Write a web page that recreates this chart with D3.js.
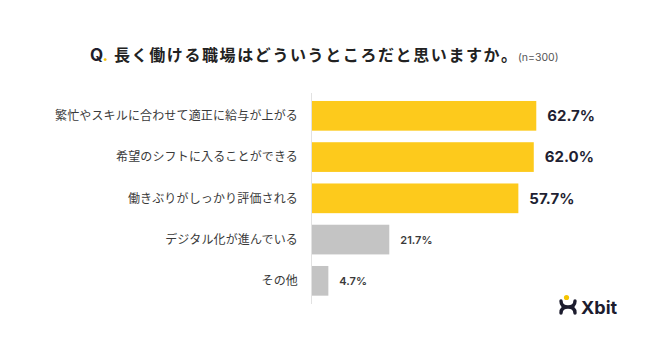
<!DOCTYPE html>
<html><head><meta charset="utf-8">
<script src="https://cdn.jsdelivr.net/npm/d3@7"></script>
<style>
html,body{margin:0;padding:0;background:#fff;}
svg{display:block;}
</style></head>
<body><div id="chart"></div>
<script>
const categories = ["繁忙やスキルに合わせて適正に給与が上がる","希望のシフトに入ることができる","働きぶりがしっかり評価される","デジタル化が進んでいる","その他"];
const values = [62.7, 62.0, 57.7, 21.7, 4.7];
const highlight = [true, true, true, false, false];
const titleText = "長く働ける職場はどういうところだと思いますか。";
const sampleText = "(n=300)";

const W = 650, H = 341;
const svg = d3.select("#chart").append("svg").attr("width", W).attr("height", H);
svg.append("rect").attr("width", W).attr("height", H).attr("fill", "#fff");

const x = d3.scaleLinear().domain([0, 70]).range([311.5, 311.5 + 70 * 3.585]);
const y = d3.scaleBand().domain(categories).range([95.2, 301.45]).paddingInner(0.28).paddingOuter(0.14);

// title
const t = svg.append("text").attr("x", 90).attr("y", 61);
t.append("tspan").text("Q").attr("font-family", "Inter, Lato, sans-serif").attr("font-weight", 700).attr("font-size", 17).attr("fill", "#1f1f2e");
t.append("tspan").text(".").attr("font-family", "Inter, Lato, sans-serif").attr("font-weight", 700).attr("font-size", 17).attr("fill", "#f5c400");
svg.append("text").attr("x", 114).attr("y", 61).text(titleText)
  .attr("font-family", "'Noto Sans CJK JP', sans-serif").attr("font-weight", 700)
  .attr("font-size", 16).attr("letter-spacing", 1.6).attr("fill", "#222");
svg.append("text").attr("x", 518).attr("y", 61).text(sampleText)
  .attr("font-family", "Inter, Lato, sans-serif").attr("font-size", 10.5).attr("fill", "#555");

// axis line
svg.append("line").attr("x1", x(0)).attr("x2", x(0)).attr("y1", 93).attr("y2", 304)
  .attr("stroke", "#e2e2e2").attr("stroke-width", 1);

// bars
svg.selectAll("rect.bar").data(categories).join("rect").attr("class", "bar")
  .attr("x", x(0) + 0.5).attr("y", d => y(d))
  .attr("width", (d, i) => x(values[i]) - x(0) - 0.5)
  .attr("height", y.bandwidth())
  .attr("fill", (d, i) => highlight[i] ? "#fdca1c" : "#c4c4c4");

// category labels
svg.selectAll("text.cat").data(categories).join("text").attr("class", "cat")
  .attr("x", 298).attr("y", d => y(d) + y.bandwidth() / 2).attr("dy", "0.36em")
  .attr("text-anchor", "end").text(d => d)
  .attr("font-family", "'Noto Sans CJK JP', sans-serif").attr("font-size", 12)
  .attr("letter-spacing", 0.15).attr("fill", "#3a3a3a");

// value labels
svg.selectAll("text.val").data(categories).join("text").attr("class", "val")
  .attr("x", (d, i) => x(values[i]) + 11)
  .attr("y", d => y(d) + y.bandwidth() / 2).attr("dy", "0.36em")
  .text((d, i) => values[i].toFixed(1) + "%")
  .attr("font-family", "Inter, Lato, sans-serif")
  .attr("font-weight", (d, i) => highlight[i] ? 700 : 600)
  .attr("font-size", (d, i) => highlight[i] ? 15 : 11)
  .attr("fill", (d, i) => highlight[i] ? "#1f1f33" : "#3a3a3a");

// logo
const g = svg.append("g");
g.append("circle").attr("cx", 566.5).attr("cy", 297.5).attr("r", 2.6).attr("fill", "#f5c400");
g.append("path").attr("d", "M561,301 Q561,307 568,307 Q575,307 575,301 M561,313 Q561,307 568,307 Q575,307 575,313")
  .attr("fill", "none").attr("stroke", "#1c1c2e").attr("stroke-width", 3.4).attr("stroke-linecap", "round");
g.append("text").attr("x", 581).attr("y", 313.5).text("Xbit")
  .attr("font-family", "Inter, Lato, sans-serif").attr("font-weight", 700).attr("font-size", 18).attr("fill", "#1c1c2e");
</script></body></html>
